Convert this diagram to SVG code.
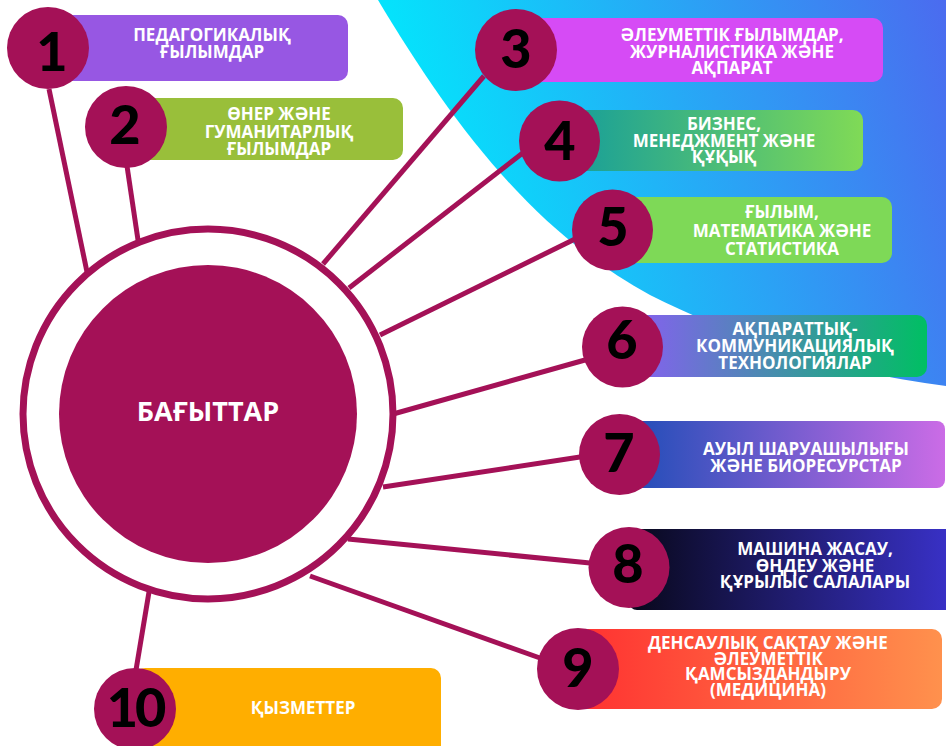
<svg xmlns="http://www.w3.org/2000/svg" width="946" height="746" viewBox="0 0 946 746">
<style>
.lbl{font-family:"Open Sans","Noto Sans","DejaVu Sans",sans-serif;font-weight:700;font-size:17px;fill:#ffffff;text-anchor:middle}
.num{font-family:"Lato","Liberation Sans",sans-serif;font-weight:900;font-size:54px;fill:#000000;text-anchor:middle}
.dot{fill:#A41157}
.con line{stroke:#A41157;stroke-width:5;stroke-linecap:butt}
</style>
<defs>
<linearGradient id="gbg" gradientUnits="userSpaceOnUse" x1="430" y1="150" x2="946" y2="0"><stop offset="0" stop-color="#05E2FC"/><stop offset="1" stop-color="#4B6BEF"/></linearGradient>
<linearGradient id="g4" x1="0" y1="0" x2="1" y2="0"><stop offset="0" stop-color="#139C9C"/><stop offset="1" stop-color="#80DA56"/></linearGradient>
<linearGradient id="g6" x1="0" y1="0" x2="1" y2="0"><stop offset="0" stop-color="#8C5CF6"/><stop offset="1" stop-color="#00BF63"/></linearGradient>
<linearGradient id="g7" x1="0" y1="0" x2="1" y2="0"><stop offset="0" stop-color="#1A4CB6"/><stop offset="1" stop-color="#CB6CE6"/></linearGradient>
<linearGradient id="g8" x1="0" y1="0" x2="1" y2="0"><stop offset="0" stop-color="#08081A"/><stop offset="1" stop-color="#3A32CC"/></linearGradient>
<linearGradient id="g9" x1="0" y1="0" x2="1" y2="0"><stop offset="0" stop-color="#FF3131"/><stop offset="1" stop-color="#FF914D"/></linearGradient>
</defs>
<rect width="946" height="746" fill="#ffffff"/>
<path d="M378,0 C450,120 530,230 650,295 C760,350 860,375 946,386 L946,0 Z" fill="url(#gbg)"/>
<g id="connectors" class="con">
<line x1="49" y1="89" x2="87" y2="272"/>
<line x1="127" y1="166" x2="138" y2="240"/>
<line x1="484" y1="76" x2="323" y2="264"/>
<line x1="524" y1="152" x2="349" y2="288"/>
<line x1="575" y1="239" x2="380" y2="335"/>
<line x1="585" y1="360" x2="386" y2="416"/>
<line x1="580" y1="457" x2="383" y2="487"/>
<line x1="590" y1="563" x2="348" y2="539"/>
<line x1="540" y1="658" x2="310" y2="576"/>
<line x1="149" y1="592" x2="136" y2="670"/>
</g>
<g id="center">
<circle cx="208" cy="414" r="185" fill="#ffffff" stroke="#A41157" stroke-width="7"/>
<circle cx="208" cy="414" r="149" class="dot"/>
<text x="208" y="421" class="lbl" style="font-size:27px">БАҒЫТТАР</text>
</g>
<g id="node1">
<rect x="48" y="15" width="300" height="66" rx="10" fill="#9757E3"/>
<circle cx="48" cy="48" r="41" class="dot"/>
<text x="52" y="71" class="num">1</text>
<text x="212" y="41" class="lbl">ПЕДАГОГИКАЛЫҚ</text>
<text x="212" y="58" class="lbl">ҒЫЛЫМДАР</text>
</g>
<g id="node2">
<rect x="126" y="98" width="277" height="62" rx="10" fill="#99BF3A"/>
<circle cx="126" cy="127" r="41" class="dot"/>
<text x="125" y="144" class="num">2</text>
<text x="279" y="120" class="lbl">ӨНЕР ЖӘНЕ</text>
<text x="279" y="137.5" class="lbl">ГУМАНИТАРЛЫҚ</text>
<text x="279" y="155" class="lbl">ҒЫЛЫМДАР</text>
</g>
<g id="node3">
<rect x="516" y="18" width="367" height="64" rx="10" fill="#D64BF5"/>
<circle cx="516" cy="50" r="41" class="dot"/>
<text x="516" y="68" class="num">3</text>
<text x="732" y="41" class="lbl">ӘЛЕУМЕТТІК ҒЫЛЫМДАР,</text>
<text x="732" y="57.5" class="lbl">ЖУРНАЛИСТИКА ЖӘНЕ</text>
<text x="732" y="74" class="lbl">АҚПАРАТ</text>
</g>
<g id="node4">
<rect x="559" y="110" width="304" height="61" rx="10" fill="url(#g4)"/>
<circle cx="559.5" cy="141" r="40.5" class="dot"/>
<text x="560" y="160" class="num">4</text>
<text x="724" y="130" class="lbl">БИЗНЕС,</text>
<text x="724" y="147" class="lbl">МЕНЕДЖМЕНТ ЖӘНЕ</text>
<text x="724" y="163" class="lbl">ҚҰҚЫҚ</text>
</g>
<g id="node5">
<rect x="612" y="197" width="280" height="66" rx="10" fill="#7ED957"/>
<circle cx="612.5" cy="230" r="40.5" class="dot"/>
<text x="613" y="246" class="num">5</text>
<text x="782" y="218" class="lbl">ҒЫЛЫМ,</text>
<text x="782" y="236.5" class="lbl">МАТЕМАТИКА ЖӘНЕ</text>
<text x="782" y="255" class="lbl">СТАТИСТИКА</text>
</g>
<g id="node6">
<rect x="622" y="315" width="305" height="62" rx="10" fill="url(#g6)"/>
<circle cx="622.5" cy="347" r="40.5" class="dot"/>
<text x="622" y="359" class="num">6</text>
<text x="795" y="335" class="lbl">АҚПАРАТТЫҚ-</text>
<text x="795" y="352" class="lbl">КОММУНИКАЦИЯЛЫҚ</text>
<text x="795" y="369" class="lbl">ТЕХНОЛОГИЯЛАР</text>
</g>
<g id="node7">
<rect x="619" y="421" width="326" height="67" rx="8" fill="url(#g7)"/>
<circle cx="619.5" cy="454.5" r="40.5" class="dot"/>
<text x="619" y="472" class="num">7</text>
<text x="806" y="455" class="lbl">АУЫЛ ШАРУАШЫЛЫҒЫ</text>
<text x="806" y="471.5" class="lbl">ЖӘНЕ БИОРЕСУРСТАР</text>
</g>
<g id="node8">
<rect x="629" y="529" width="330" height="81" rx="8" fill="url(#g8)"/>
<circle cx="629" cy="567.5" r="40.5" class="dot"/>
<text x="628" y="583" class="num">8</text>
<text x="815" y="555" class="lbl">МАШИНА ЖАСАУ,</text>
<text x="815" y="571.5" class="lbl">ӨҢДЕУ ЖӘНЕ</text>
<text x="815" y="588" class="lbl">ҚҰРЫЛЫС САЛАЛАРЫ</text>
</g>
<g id="node9">
<rect x="578" y="629" width="364" height="80" rx="10" fill="url(#g9)"/>
<circle cx="578" cy="669" r="41" class="dot"/>
<text x="578" y="687" class="num">9</text>
<text x="768" y="649" class="lbl">ДЕНСАУЛЫҚ САҚТАУ ЖӘНЕ</text>
<text x="768" y="664.5" class="lbl">ӘЛЕУМЕТТІК</text>
<text x="768" y="680" class="lbl">ҚАМСЫЗДАНДЫРУ</text>
<text x="768" y="695.5" class="lbl">(МЕДИЦИНА)</text>
</g>
<g id="node10">
<rect x="135" y="668" width="306" height="90" rx="10" fill="#FFAE00"/>
<circle cx="135" cy="709" r="41" class="dot"/>
<text x="135" y="727" class="num" style="letter-spacing:-3px">10</text>
<text x="303" y="714" class="lbl">ҚЫЗМЕТТЕР</text>
</g>
</svg>
